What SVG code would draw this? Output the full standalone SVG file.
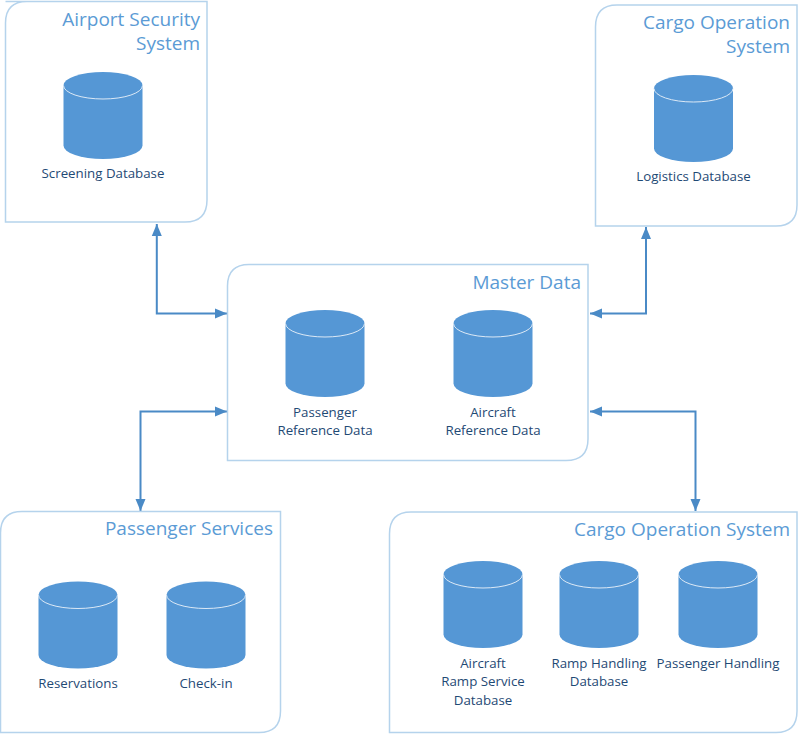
<svg xmlns="http://www.w3.org/2000/svg" width="800" height="735" viewBox="0 0 800 735">
<style>
.box{fill:#fff;stroke:#b5d3ec;stroke-width:1.5}
.body{fill:#5597d5}
.rim{fill:none;stroke:#dce9f6;stroke-width:1}
.title{font-family:"Open Sans","Noto Sans",sans-serif;font-size:19px;fill:#5b9bd5;text-anchor:end}
.label{font-family:"Open Sans","Noto Sans",sans-serif;font-size:13.300px;fill:#1f4a75;text-anchor:middle}
.conn{fill:none;stroke:#4a8ac6;stroke-width:2}
</style>
<defs>
<symbol id="cyl" overflow="visible"><path class="body" d="M0 13.500A39.500 13.500 0 0 1 79 13.500V73.500A39.500 13.500 0 0 1 0 73.500Z"/><path class="rim" d="M0 13.500A39.500 13.500 0 0 0 79 13.500"/></symbol>
<marker id="ah" markerUnits="userSpaceOnUse" markerWidth="14" markerHeight="12" refX="12" refY="5" orient="auto-start-reverse" viewBox="0 0 14 10"><path d="M0 0L12 5L0 10Z" fill="#4a8ac6"/></marker>
</defs>
<g id="connectors">
<path class="conn" marker-start="url(#ah)" marker-end="url(#ah)" d="M156.800 224V313.500H227"/>
<path class="conn" marker-start="url(#ah)" marker-end="url(#ah)" d="M646 227V313.500H590"/>
<path class="conn" marker-start="url(#ah)" marker-end="url(#ah)" d="M140.500 511V411.500H227"/>
<path class="conn" marker-start="url(#ah)" marker-end="url(#ah)" d="M695.500 511V411.500H590"/>
</g>
<g id="airport-security">
<path class="box" d="M5.500 1.500H207V200Q207 222 185 222H5.500V23Q5.500 1.500 27 1.500Z"/>
<text class="title"><tspan x="200" y="26">Airport Security</tspan><tspan x="200" y="50">System</tspan></text>
<use href="#cyl" x="63.500" y="72"/><text class="label" x="103" y="178">Screening Database</text>
</g>
<g id="cargo-top">
<path class="box" d="M617 5H797V205Q797 226 776 226H595.500V27Q595.500 5 617 5Z"/>
<text class="title"><tspan x="790" y="29">Cargo Operation</tspan><tspan x="790" y="53">System</tspan></text>
<use href="#cyl" x="654" y="75"/><text class="label" x="693.500" y="181">Logistics Database</text>
</g>
<g id="master-data">
<path class="box" d="M249 264.500H588V439Q588 460.500 566 460.500H227.500V286Q227.500 264.500 249 264.500Z"/>
<text class="title" x="581" y="288.500">Master Data</text>
<use href="#cyl" x="285.500" y="310"/><text class="label" x="325" y="416.500">Passenger</text><text class="label" x="325" y="435">Reference Data</text>
<use href="#cyl" x="453.500" y="310"/><text class="label" x="493" y="416.500">Aircraft</text><text class="label" x="493" y="435">Reference Data</text>
</g>
<g id="passenger-services">
<path class="box" d="M22 511.500H280.500V711Q280.500 732.500 259 732.500H0.500V533Q0.500 511.500 22 511.500Z"/>
<text class="title" x="273" y="535">Passenger Services</text>
<use href="#cyl" x="38.500" y="581.500"/><text class="label" x="78" y="688">Reservations</text>
<use href="#cyl" x="166.500" y="581.500"/><text class="label" x="206" y="688">Check-in</text>
</g>
<g id="cargo-bottom">
<path class="box" d="M411 512H797V711Q797 732.500 776 732.500H389.500V534Q389.500 512 411 512Z"/>
<text class="title" x="790" y="535.500">Cargo Operation System</text>
<use href="#cyl" x="443.500" y="561"/><text class="label" x="483" y="667.500">Aircraft</text><text class="label" x="483" y="686">Ramp Service</text><text class="label" x="483" y="704.500">Database</text>
<use href="#cyl" x="559.500" y="561"/><text class="label" x="599" y="667.500">Ramp Handling</text><text class="label" x="599" y="686">Database</text>
<use href="#cyl" x="678.500" y="561"/><text class="label" x="718" y="667.500">Passenger Handling</text>
</g>
</svg>
